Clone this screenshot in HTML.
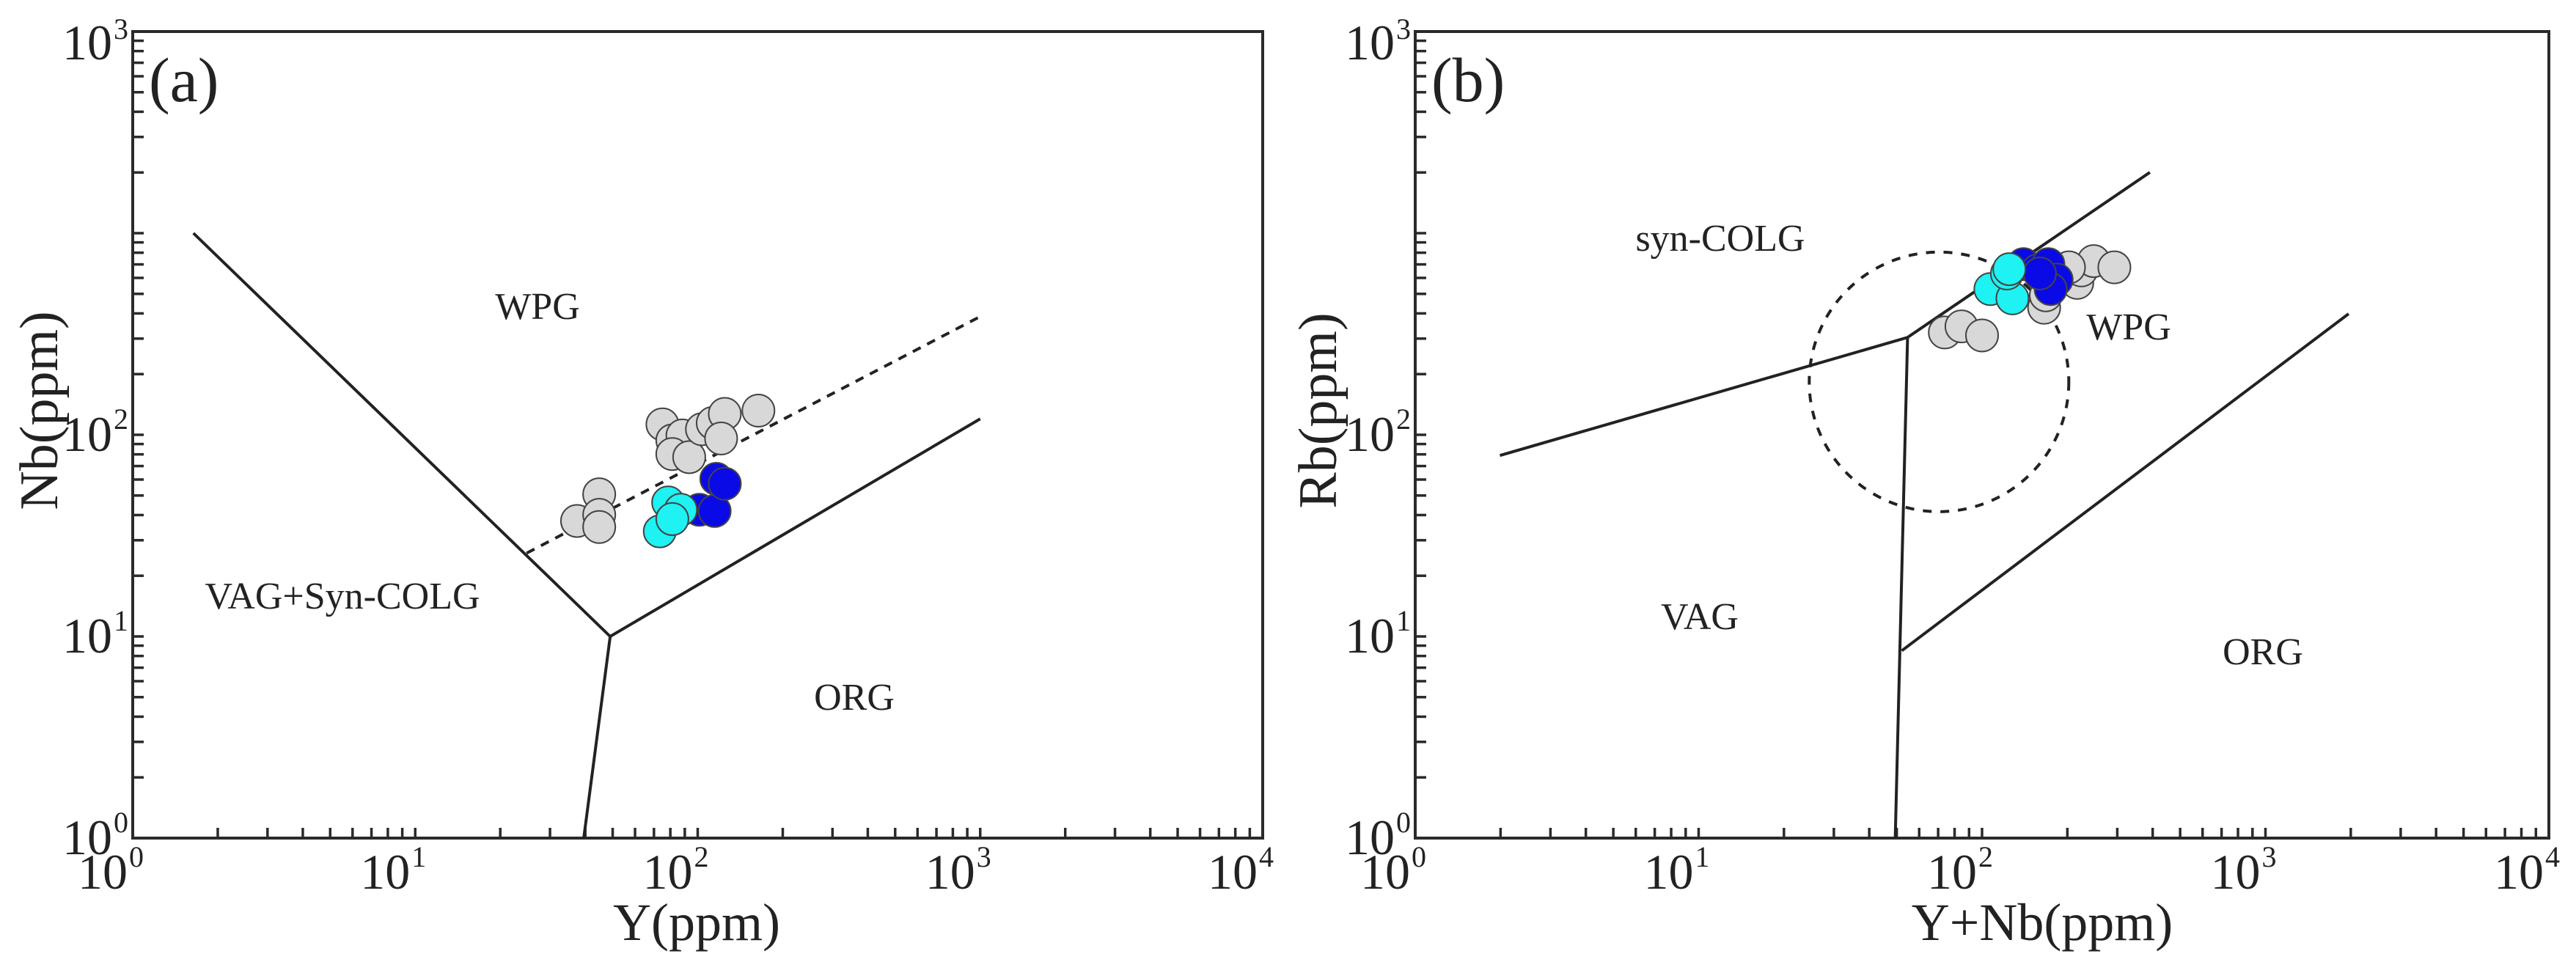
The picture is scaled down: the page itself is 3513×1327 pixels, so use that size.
<!DOCTYPE html>
<html><head><meta charset="utf-8">
<style>
html,body{margin:0;padding:0;background:#fff;}
svg{display:block;}
text{font-family:"Liberation Serif",serif;fill:#222;}
</style></head>
<body>
<svg id="chart" width="3513" height="1327" viewBox="0 0 3513 1327" xmlns="http://www.w3.org/2000/svg"></svg>
<script>
// Panel (a) data: Y vs Nb
const aGrayX=[37.4,44.8,44.8,44.8,75,81.3,88.3,81.3,93.3,103.5,113,124.7,121,164];
const aGrayY=[37.4,50.7,40.1,34.9,112.7,93.8,99.3,80.3,77.5,106.6,114.4,127,95.9,131.8];
const aBlueX=[101.4,114.8,116.4,124.7];
const aBlueY=[42.5,41.9,60.5,57.2];
const aCyanX=[78.6,87.1,73.4,81.3];
const aCyanY=[46.2,42.5,33.2,38.2];
// Panel (b) data: Y+Nb vs Rb
const bGrayX=[73.9,84.6,100,165.6,167.9,216.7,224,247.7,293,202.6];
const bGrayY=[322,345,311,427,492,567,654,727,677,677];
const bBlueX=[140,157,171.4,183.3,174.6,160];
const bBlueY=[702,654,702,588,528,631];
const bCyanX=[107,128,122.4,124.8];
const bCyanY=[528,475,631,663];
// Field boundaries
const aBound1X=[1.64,49,1000], aBound1Y=[1000,10,120];
const aBound2X=[49,39.5], aBound2Y=[10,1];
const aDashX=[24.8,1000], aDashY=[25.9,386];
const bBound1X=[1.99,54.6,391], bBound1Y=[79,304,2003];
const bBound2X=[54.6,49.4], bBound2Y=[304,1];
const bBound3X=[52.1,1965], bBound3Y=[8.5,398];
const bCircleX=[70.5], bCircleY=[183];
const xTickLabels=['0','1','2','3','4'];
const yTickLabels=['0','1','2','3'];

const NS='http://www.w3.org/2000/svg';
const svg=document.getElementById('chart');
function mk(tag,attrs,parent){const e=document.createElementNS(NS,tag);for(const k in attrs)e.setAttribute(k,attrs[k]);(parent||svg).appendChild(e);return e;}

function panel(cfg){
  const L=cfg.left,R=cfg.right,T=43,B=1143;
  const dx=(R-L)/4, dy=(B-T)/4;
  const X=v=>L+Math.log10(v)*dx;
  const Y=v=>B-Math.log10(v)*dy;
  const g=mk('g',{});
  
  
  const fr=mk('rect',{x:L,y:T,width:R-L,height:B-T,fill:'none',stroke:'#2a2a2a','stroke-width':4},g);
  
  
  for(let d=0;d<4;d++){for(let m=1;m<=9;m++){if(d===0&&m===1)continue;const x=X(m*Math.pow(10,d));
    const t=mk('line',{x1:x,x2:x,y1:B,y2:B-14,stroke:'#2a2a2a','stroke-width':3.5},g);
    
    }}
  for(let d=0;d<4;d++){for(let m=1;m<=9;m++){if(d===0&&m===1)continue;const y=Y(m*Math.pow(10,d));
    const t=mk('line',{x1:L,x2:L+15,y1:y,y2:y,stroke:'#2a2a2a','stroke-width':3.5},g);
    
    }}
  xTickLabels.forEach((s,i)=>{const x=X(Math.pow(10,i));
    const t=mk('text',{x:x-30,y:1212,'font-size':68,'text-anchor':'middle'},g);
    t.textContent='10';
    const sp=mk('tspan',{dx:2,dy:-30,'font-size':40},t);sp.textContent=s;
    
    });
  yTickLabels.forEach((s,i)=>{const y=i<3?Y(Math.pow(10,i)):T;
    const t=mk('text',{x:L-28,y:y+(i<3?22:38),'font-size':68,'text-anchor':'end'},g);
    t.textContent='10';
    
    
    const sp=mk('text',{x:L-26,y:y+(i<3?-8:10),'font-size':40},g);sp.textContent=s;
    
    });
  cfg.lines.forEach(ln=>{const pts=ln.x.map((v,i)=>X(v)+','+Y(ln.y[i])).join(' ');
    const p=mk('polyline',{points:pts,fill:'none',stroke:'#222','stroke-width':4,'stroke-dasharray':ln.dash?'12,10':'none'},g);
    
    });
  if(cfg.circle){const c=mk('circle',{cx:X(cfg.circle.x[0]),cy:Y(cfg.circle.y[0]),r:177,fill:'none',stroke:'#222','stroke-width':4,'stroke-dasharray':'12,12'},g);
    
    }
  cfg.series.forEach(s=>{s.x.forEach((v,i)=>{
    const c=mk('circle',{cx:X(v),cy:Y(s.y[i]),r:22,fill:s.fill,stroke:'#444','stroke-width':2},g);
    
    });});
  cfg.labels.forEach(lb=>{const t=mk('text',{x:lb.x,y:lb.y,'font-size':52,'text-anchor':'middle'},g);t.textContent=lb.t;
    
    });
  const pl=mk('text',{x:L+22,y:138,'font-size':86},g);pl.textContent=cfg.tag;
  
  
  const xt=mk('text',{x:cfg.xtx,y:1282,'font-size':72,'text-anchor':'middle'},g);xt.textContent=cfg.xtitle;
  
  
  const yt=mk('text',{x:0,y:0,'font-size':74,'text-anchor':'middle',transform:'translate('+(cfg.ytx)+','+cfg.yty+') rotate(-90)'},g);yt.textContent=cfg.ytitle;
  
  
}
panel({name:'panel-a',left:181,right:1722,tag:'(a)',xtitle:'Y(ppm)',ytitle:'Nb(ppm)',xtx:950,ytx:78,yty:560,
  lines:[{x:aBound1X,y:aBound1Y,name:'boundary-line'},{x:aBound2X,y:aBound2Y,name:'boundary-line'},{x:aDashX,y:aDashY,dash:true,name:'dashed-boundary'}],
  series:[{x:aGrayX,y:aGrayY,fill:'#d8d8d8',name:'gray-sample'},{x:aBlueX,y:aBlueY,fill:'#0a0ae6',name:'blue-sample'},{x:aCyanX,y:aCyanY,fill:'#1ef2f2',name:'cyan-sample'}],
  labels:[{x:733,y:435,t:'WPG',n:'wpg-label'},{x:467,y:830,t:'VAG+Syn-COLG',n:'vag-syn-colg-label'},{x:1165,y:968,t:'ORG',n:'org-label'}]});
panel({name:'panel-b',left:1930,right:3476,tag:'(b)',xtitle:'Y+Nb(ppm)',ytitle:'Rb(ppm)',xtx:2785,ytx:1822,yty:560,
  lines:[{x:bBound1X,y:bBound1Y,name:'boundary-line'},{x:bBound2X,y:bBound2Y,name:'boundary-line'},{x:bBound3X,y:bBound3Y,name:'boundary-line'}],
  circle:{x:bCircleX,y:bCircleY},
  series:[{x:bGrayX,y:bGrayY,fill:'#d8d8d8',name:'gray-sample'},{x:bBlueX,y:bBlueY,fill:'#0a0ae6',name:'blue-sample'},{x:bCyanX,y:bCyanY,fill:'#1ef2f2',name:'cyan-sample'}],
  labels:[{x:2346,y:342,t:'syn-COLG',n:'syn-colg-label'},{x:2903,y:463,t:'WPG',n:'wpg-label'},{x:2318,y:858,t:'VAG',n:'vag-label'},{x:3086,y:906,t:'ORG',n:'org-label'}]});
</script>
</body></html>
